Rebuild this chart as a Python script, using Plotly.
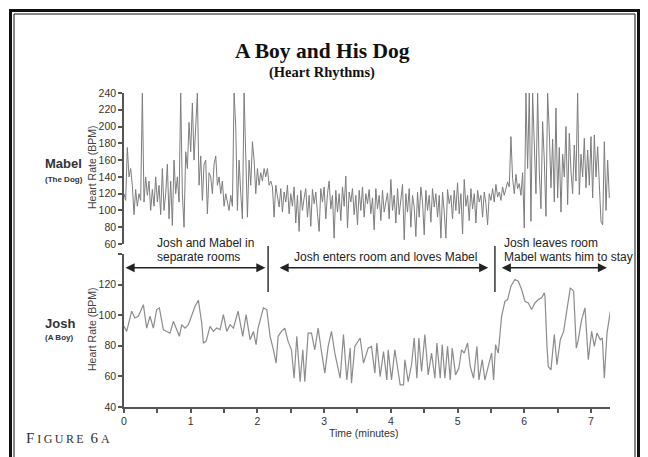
"""A Boy and His Dog - heart rhythm traces for Mabel (dog) and Josh (boy)."""

import numpy as np
import plotly.graph_objects as go

W, H = 648, 457
OFF = 8  # the page body adds an 8px margin round the plot div

# -- Mabel (the dog): BPM sampled every 0.025 min --
DOG_STEP_MIN = 0.025
dog_bpm = [
    # Josh and Mabel in separate rooms
    120, 112, 175, 140, 150, 130, 95, 125, 105, 120,
    112, 240, 110, 140, 118, 135, 100, 125, 105, 140,
    110, 130, 95, 150, 100, 120, 155, 90, 135, 82,
    160, 120, 140, 110, 240, 120, 80, 170, 150, 205,
    170, 228, 160, 195, 240, 130, 165, 112, 155, 160,
    96, 145, 140, 120, 155, 165, 130, 140, 120, 135,
    105, 120, 110, 100, 118, 105, 240, 200, 100, 160,
    120, 90, 240, 150, 92, 160, 130, 182, 160, 120,
    150, 130, 145, 135, 150, 140, 150, 130, 135,
    # Josh in the room
    128, 92, 130, 118, 104, 126, 98, 122, 110, 130,
    96, 120, 105, 128, 85, 118, 75, 124, 100, 115,
    126, 92, 118, 81, 125, 108, 122, 96, 75, 126,
    110, 128, 90, 120, 135, 102, 118, 67, 124, 98,
    120, 88, 128, 105, 141, 79, 122, 110, 126, 95,
    118, 83, 124, 100, 128, 92, 120, 108, 125, 96,
    115, 77, 126, 102, 118, 88, 124, 98, 112, 121,
    90, 137, 100, 118, 85, 126, 95, 115, 131, 65,
    120, 98, 126, 80, 118, 104, 69, 122, 92, 128,
    110, 71, 124, 100, 118, 86, 126, 104, 120, 92,
    118, 67, 122, 98, 67, 125, 108, 118, 90, 124,
    100, 133, 96, 120, 72, 137, 105, 118, 88, 126,
    102, 120, 85, 124, 110, 118, 92, 122, 108, 83,
    120, 112, 126, 110, 131, 116, 122, 112, 128, 118,
    125, 134, 128,
    # Josh leaves
    188, 138, 120, 143, 126, 132, 118, 145, 79, 240,
    150, 240, 87, 240, 186, 120, 240, 147, 102, 206,
    160, 93, 240, 194, 127, 185, 110, 222, 115, 175,
    98, 167, 140, 200, 107, 192, 147, 120, 178, 135,
    240, 119, 167, 140, 186, 127, 172, 130, 188, 115,
    190, 140, 176, 120, 87, 83, 182, 100, 160, 115,
]

# -- Josh (the boy) --
boy_min = [
    0.00, 0.04, 0.115, 0.165, 0.215, 0.29, 0.34, 0.39, 0.44, 0.49,
    0.53, 0.59, 0.64, 0.69, 0.74, 0.79, 0.83, 0.865, 0.915, 0.965,
    1.015, 1.065, 1.115, 1.165, 1.19, 1.23, 1.29, 1.34, 1.39, 1.44,
    1.49, 1.54, 1.59, 1.64, 1.71, 1.78, 1.83, 1.89, 1.94, 1.98,
    2.01, 2.09, 2.14, 2.19, 2.24, 2.28, 2.31, 2.36, 2.41, 2.46,
    2.51, 2.55, 2.59, 2.64, 2.68, 2.71, 2.76, 2.81, 2.86, 2.91,
    2.96, 3.01, 3.06, 3.11, 3.16, 3.24, 3.29, 3.34, 3.39, 3.41,
    3.46, 3.54, 3.59, 3.66,
    3.71, 3.76, 3.79, 3.84, 3.89, 3.94, 3.96, 4.01, 4.06, 4.11,
    4.14, 4.19, 4.21, 4.26, 4.31, 4.35, 4.39, 4.42, 4.46, 4.51,
    4.56, 4.61, 4.66, 4.69, 4.74, 4.77, 4.81, 4.85, 4.89, 4.92,
    4.97, 5.02, 5.06, 5.10, 5.15, 5.19, 5.24, 5.29, 5.32, 5.37,
    5.41, 5.46, 5.51, 5.54, 5.57, 5.61, 5.66, 5.71, 5.75, 5.80,
    5.86, 5.91, 5.96, 6.01, 6.06, 6.11, 6.16, 6.21, 6.26, 6.30,
    6.31, 6.34, 6.36, 6.40, 6.45, 6.49, 6.54, 6.59, 6.64, 6.69,
    6.74, 6.78, 6.81, 6.86, 6.91, 6.96, 7.01, 7.05, 7.09, 7.14,
    7.17, 7.20, 7.24, 7.29,
]
boy_bpm = [
    92.7, 89.4, 102.6, 98.2, 99.3, 106.9, 91.6, 99.3, 91.6, 103.7,
    104.8, 90.5, 89.4, 88.3, 96.0, 90.5, 86.2, 93.8, 91.6, 93.8,
    100.4, 105.8, 109.8, 94.9, 81.8, 82.9, 92.7, 89.4, 91.6, 90.5,
    100.4, 89.4, 93.8, 91.6, 102.6, 86.2, 100.4, 84.0, 89.4, 80.7,
    91.6, 104.8, 103.7, 86.2, 77.4, 68.7, 86.2, 89.4, 91.6, 82.9,
    77.4, 58.8, 86.2, 56.6, 77.4, 56.6, 88.3, 88.3, 77.4, 91.6,
    76.3, 62.1, 79.6, 89.4, 75.2, 58.8, 87.3, 57.7, 78.5, 55.5,
    79.6, 85.1, 68.7, 78.5,
    79.6, 62.1, 81.8, 59.9, 76.3, 57.7, 77.4, 57.7, 77.4, 62.1,
    54.4, 54.4, 70.9, 56.6, 67.6, 85.1, 58.8, 85.1, 63.2, 87.3,
    61.0, 75.2, 58.8, 81.8, 58.8, 80.7, 58.8, 79.6, 57.7, 78.5,
    61.0, 65.4, 77.4, 75.2, 81.8, 66.5, 58.8, 79.6, 57.7, 70.9,
    57.7, 66.5, 75.2, 57.7, 80.7, 75.2, 99.3, 109.1, 110.2, 119.0,
    123.3, 122.2, 116.8, 109.1, 108.0, 103.7, 108.0, 110.2, 111.3, 114.6,
    112.4, 79.6, 66.5, 64.3, 87.3, 67.6, 84.0, 89.4, 103.7, 117.9,
    115.7, 78.5, 84.0, 97.1, 104.8, 70.9, 89.4, 79.6, 88.3, 84.0,
    85.1, 58.8, 88.3, 102.6,
]

# phase separators (minutes) and the arrow spans for each phase
phase_breaks = [2.16, 5.56]
phase_arrows = [(0.0, 2.12), (2.31, 5.46), (5.64, 7.24)]

dog_ticks = [60, 80, 100, 120, 140, 160, 180, 200, 220, 240]
boy_ticks = [40, 60, 80, 100, 120, 140]
boy_ticktext = ["40", "60", "80", "100", "120", ""]
time_ticks = [i * 0.5 for i in range(15)]
time_ticktext = [str(int(t)) if t == int(t) else "" for t in time_ticks]

dog_min = np.arange(len(dog_bpm)) * DOG_STEP_MIN


def px(x):
    """page pixel -> paper fraction"""
    return (x - OFF) / W


def py(y):
    return 1 - (y - OFF) / H


SANS = "Liberation Sans, Arial, sans-serif"
SERIF = "Liberation Serif, Times New Roman, serif"
AXIS = "#555"

fig = go.Figure()
fig.add_trace(go.Scatter(
    x=dog_min, y=dog_bpm, mode="lines",
    line=dict(color="#7d7d7d", width=1),
    xaxis="x", yaxis="y", showlegend=False,
))
fig.add_trace(go.Scatter(
    x=boy_min, y=boy_bpm, mode="lines",
    line=dict(color="#8c8c8c", width=1.2),
    xaxis="x2", yaxis="y2", showlegend=False,
))

xdom = [px(124), px(610)]
xrange_ = [0, 7.285]
yaxis_common = dict(
    showline=True, linecolor=AXIS, linewidth=1.5,
    ticks="outside", ticklen=4, tickcolor=AXIS, tickwidth=1.5,
    showgrid=False, zeroline=False, automargin=False,
    tickfont=dict(family=SANS, size=10.5, color="#333"),
)

fig.update_layout(
    width=W, height=H, autosize=False,
    margin=dict(l=0, r=0, t=0, b=0, pad=0, autoexpand=False),
    paper_bgcolor="white", plot_bgcolor="white",
    xaxis=dict(domain=xdom, range=xrange_, visible=False, anchor="y",
               automargin=False),
    yaxis=dict(domain=[py(244), py(93)], range=[60, 240],
               tickvals=dog_ticks, anchor="x", **yaxis_common),
    xaxis2=dict(domain=xdom, range=xrange_, anchor="y2", automargin=False,
                showline=True, linecolor=AXIS, linewidth=1.5,
                ticks="outside", ticklen=4, tickcolor=AXIS, tickwidth=1.5,
                tickvals=time_ticks, ticktext=time_ticktext,
                showgrid=False, zeroline=False,
                tickfont=dict(family=SANS, size=10.5, color="#333")),
    yaxis2=dict(domain=[py(407), py(254)], range=[40, 140],
                tickvals=boy_ticks, ticktext=boy_ticktext,
                anchor="x2", **yaxis_common),
)

shapes = []
# double frame round the figure
shapes.append(dict(type="rect", xref="paper", yref="paper",
                   x0=px(10.5), x1=px(638.5), y0=py(480), y1=py(10.5),
                   line=dict(color="#111", width=3)))
shapes.append(dict(type="rect", xref="paper", yref="paper",
                   x0=px(14), x1=px(635), y0=py(480), y1=py(14),
                   line=dict(color="#111", width=1)))
for b in phase_breaks:
    shapes.append(dict(type="line", xref="x2", yref="paper",
                       x0=b, x1=b, y0=py(292), y1=py(246),
                       line=dict(color="#333", width=1.5)))
fig.update_layout(shapes=shapes)

ann = []
for a, b in phase_arrows:
    ann.append(dict(x=b, y=131, ax=a, ay=131, xref="x2", yref="y2",
                    axref="x2", ayref="y2", text="", showarrow=True,
                    arrowhead=2, arrowside="end+start", arrowsize=1.4,
                    arrowwidth=1.3, arrowcolor="#222"))

label_font = dict(family=SANS, size=12, color="#222")
for text, x, y in [
    ("Josh and Mabel in", 155, 243),
    ("separate rooms", 155, 257),
    ("Josh enters room and loves Mabel", 292, 257),
    ("Josh leaves room", 502, 243),
    ("Mabel wants him to stay", 502, 257),
]:
    ann.append(dict(x=px(x), y=py(y), xref="paper", yref="paper", text=text,
                    showarrow=False, xanchor="left", yanchor="middle",
                    font=label_font))

TS = "\u2009"  # thin space, for the letter-spaced caption
ann += [
    dict(x=px(322), y=py(51), text="<b>A Boy and His Dog</b>",
         font=dict(family=SERIF, size=21.5, color="#111")),
    dict(x=px(322), y=py(73), text="<b>(Heart Rhythms)</b>",
         font=dict(family=SERIF, size=14.5, color="#111")),
    dict(x=px(43), y=py(164), text="<b>Mabel</b>", xanchor="left",
         font=dict(family=SANS, size=13, color="#333")),
    dict(x=px(43), y=py(179), text="<b>(The Dog)</b>", xanchor="left",
         font=dict(family=SANS, size=8, color="#333")),
    dict(x=px(43), y=py(323), text="<b>Josh</b>", xanchor="left",
         font=dict(family=SANS, size=13, color="#333")),
    dict(x=px(43), y=py(337), text="<b>(A Boy)</b>", xanchor="left",
         font=dict(family=SANS, size=8, color="#333")),
    dict(x=px(92), y=py(168), text="Heart Rate (BPM)", textangle=-90,
         font=dict(family=SANS, size=10.5, color="#444")),
    dict(x=px(92), y=py(330), text="Heart Rate (BPM)", textangle=-90,
         font=dict(family=SANS, size=10.5, color="#444")),
    dict(x=px(364), y=py(433), text="Time (minutes)",
         font=dict(family=SANS, size=10.5, color="#333")),
    dict(x=px(24), y=py(438), xanchor="left",
         text=("F" + TS + "<span style='font-size:12px'>"
               + TS.join("IGURE") + "</span> " + TS + "6" + TS
               + "<span style='font-size:12px'>A</span>"),
         font=dict(family=SERIF, size=15, color="#333")),
]
for a in ann[len(phase_arrows) + 5:]:
    a.setdefault("xref", "paper")
    a.setdefault("yref", "paper")
    a.setdefault("showarrow", False)
    a.setdefault("xanchor", "center")
    a.setdefault("yanchor", "middle")
fig.update_layout(annotations=ann)

fig.write_html("out.html")
